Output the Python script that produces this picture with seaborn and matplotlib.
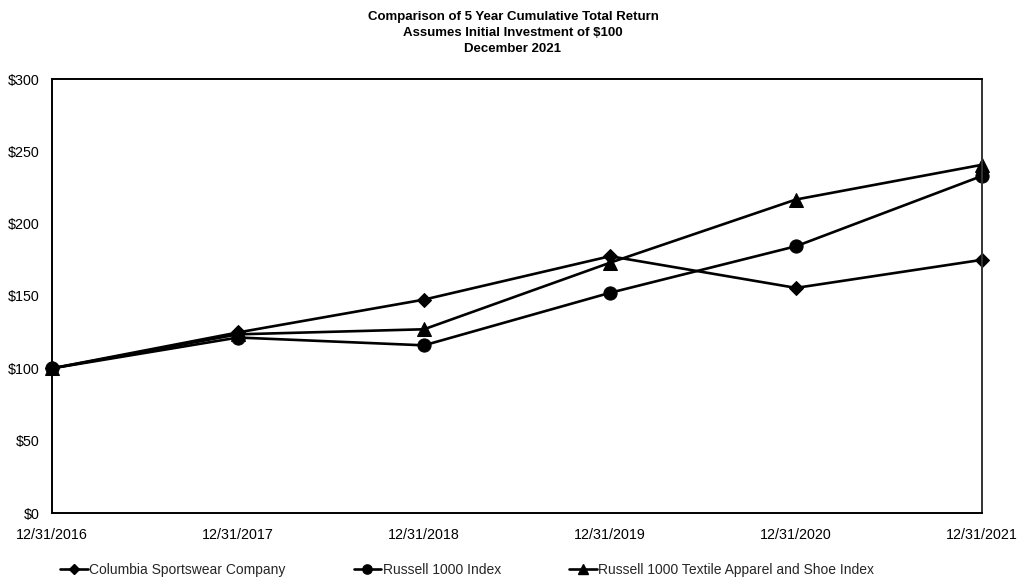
import matplotlib
matplotlib.use("Agg")
import matplotlib.pyplot as plt
import seaborn as sns
import pandas as pd
from matplotlib.lines import Line2D

dates = ["12/31/2016", "12/31/2017", "12/31/2018", "12/31/2019", "12/31/2020", "12/31/2021"]
columbia = [100, 124.8, 147.5, 177.5, 155.6, 175.0]
russell1000 = [100, 121.3, 115.9, 152.2, 184.4, 233.0]
textile = [100, 123.5, 127.0, 173.0, 216.7, 240.7]
series_names = ["Columbia Sportswear Company", "Russell 1000 Index",
                "Russell 1000 Textile Apparel and Shoe Index"]
yticks = [0, 50, 100, 150, 200, 250, 300]
title_lines = ["Comparison of 5 Year Cumulative Total Return",
               "Assumes Initial Investment of $100",
               "December 2021"]

sns.set_theme(style="white")
plt.rcParams["font.family"] = ["Liberation Sans", "DejaVu Sans"]

rows = []
for name, vals in zip(series_names, [columbia, russell1000, textile]):
    for i, v in enumerate(vals):
        rows.append({"x": i, "value": v, "series": name})
df = pd.DataFrame(rows)

W, H = 1019, 579
fig = plt.figure(figsize=(W / 100, H / 100), dpi=100)
ax = fig.add_axes([52 / W, 1 - 513 / H, (982 - 52) / W, (513 - 79) / H])

markers = {series_names[0]: "D", series_names[1]: "o", series_names[2]: "^"}
sizes = {series_names[0]: 7.5, series_names[1]: 9.5, series_names[2]: 9.5}
for name in series_names:
    sub = df[df["series"] == name]
    sns.lineplot(data=sub, x="x", y="value", ax=ax, color="black", linewidth=1.9,
                 marker=markers[name], markersize=sizes[name], markeredgecolor="black",
                 markerfacecolor="black", label=name, legend=False, clip_on=False)

ax.set_xlim(0, 5)
ax.set_ylim(0, 300)
ax.set_xticks(range(len(dates)))
ax.set_xticklabels(dates)
ax.set_yticks(yticks)
ax.set_yticklabels([f"${v}" for v in yticks])
ax.set_xlabel("")
ax.set_ylabel("")
ax.tick_params(axis="both", which="major", labelsize=10.3, labelcolor="black")
ax.tick_params(axis="x", direction="in", length=5, width=0.8, color="#bbbbbb", pad=10.5)
ax.tick_params(axis="y", direction="in", length=4, width=0.8, color="#bbbbbb", pad=9)
for sp in ax.spines.values():
    sp.set_visible(True)
    sp.set_color("black")
    sp.set_linewidth(1.4)
ax.spines["right"].set_color("#333333")

for line, ypix in zip(title_lines, [16.7, 32.7, 49.3]):
    fig.text(513 / W, 1 - ypix / H, line, ha="center", va="center",
             fontsize=9.5, fontweight="bold", color="black")

leg_handles = [Line2D([], [], color="black", linewidth=1.9, marker=markers[n],
                      markersize=sizes[n] * 0.7, markerfacecolor="black",
                      markeredgecolor="black") for n in series_names]
fig.legend(handles=leg_handles, labels=series_names, loc="center left", ncol=3,
           bbox_to_anchor=(60 / W, 1 - 570 / H), frameon=False, fontsize=10,
           handlelength=2.0, handletextpad=0.1, columnspacing=4.9,
           borderaxespad=0, borderpad=0)

fig.savefig("out.png", dpi=100)
